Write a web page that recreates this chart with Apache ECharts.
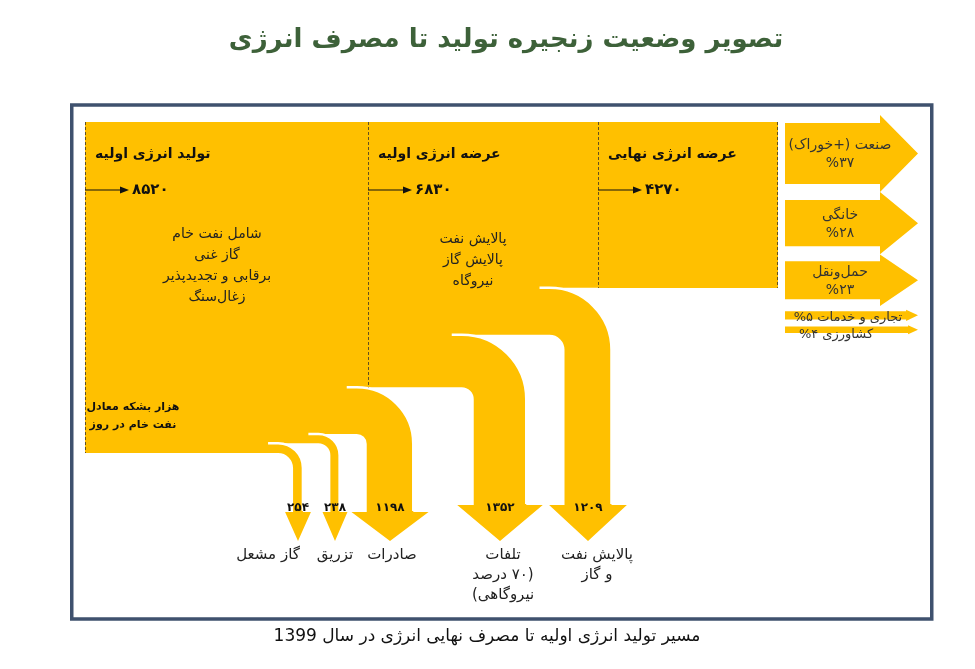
<!DOCTYPE html>
<html><head><meta charset="utf-8">
<script src="https://cdn.jsdelivr.net/npm/echarts@6/dist/echarts.min.js"></script>
<style>html,body{margin:0;padding:0;background:#fff}#c{width:975px;height:669px}</style>
</head><body><div id="c" dir="rtl"></div>
<script>
// ---------------- data ----------------
const titleText = 'تصویر وضعیت زنجیره تولید تا مصرف انرژی';
const captionText = 'مسیر تولید انرژی اولیه تا مصرف نهایی انرژی در سال 1399';
const stageNames = ['تولید انرژی اولیه', 'عرضه انرژی اولیه', 'عرضه انرژی نهایی'];
const stageValues = [8520, 6830, 4270];
const stageLabels = ['۸۵۲۰', '۶۸۳۰', '۴۲۷۰'];
const stageNotes = ['شامل نفت خام\nگاز غنی\nبرقابی و تجدیدپذیر\nزغال‌سنگ', 'پالایش نفت\nپالایش گاز\nنیروگاه', ''];
const unitNote = 'هزار بشکه معادل\nنفت خام در روز';
const flowNames = ['گاز مشعل', 'تزریق', 'صادرات', 'تلفات\n(۷۰ درصد\nنیروگاهی)', 'پالایش نفت\nو گاز'];
const flowValues = [254, 238, 1198, 1352, 1209];
const flowLabels = ['۲۵۴', '۲۳۸', '۱۱۹۸', '۱۳۵۲', '۱۲۰۹'];
const flowStage = [0, 0, 0, 1, 1];
const sectorNames = ['صنعت (+خوراک)', 'خانگی', 'حمل‌ونقل', 'تجاری و خدمات', 'کشاورزی'];
const sectorShares = [37, 28, 23, 5, 4];
const sectorPct = ['۳۷', '۲۸', '۲۳', '۵', '۴'];

// ---------------- layout / style ----------------
const FONT = '"DejaVu Sans", sans-serif';
const GOLD = '#FFC000';
const stageX = [0, 283, 513, 693];          // x layout units in grid 0
const shaftX = [213, 250, 305, 415, 503];   // shaft centre of each flow
const innerR = [15, 12, 10, 12, 15];
const headBase = [512, 512, 512, 505, 505];
const tipY = 541;
const flowLabelDx = [-30, 0, 2, 3, 9];
const noteDx = [132, 105, 0], noteDy = [102, 107, 0];
const sectorGap = [0, 16, 15, 12, 7];
const sectorLabelDx = [0, 0, 0, 8, -4], sectorLabelDy = [0, 0, 0, 1, 4];

function sum(a, n) { let s = 0; for (let k = 0; k < n; k++) s += a[k]; return s; }
const total = stageValues[0];

function flowGeom(i, api) {
  const base = sum(flowValues, i);
  const v = flowValues[i];
  const yb = api.coord([0, base])[1];
  const yt = api.coord([0, base + v])[1];
  const x0 = api.coord([stageX[flowStage[i]], 0])[0];
  const sc = api.coord([shaftX[i], 0])[0];
  const w = yb - yt, r = innerR[i], R = r + w;
  const cx = sc - w / 2 - r, cy = yb + r;
  return {yb, yt, x0, sc, w, r, R, cx, cy, sxL: cx + r, sxR: cx + R, hb: headBase[i], hw: w / 2 + 6 + 0.2 * w};
}

function renderStage(params, api) {
  const i = params.dataIndex;
  const outSum = flowValues.reduce((s, v, k) => flowStage[k] === i ? s + v : s, 0);
  const retained = stageValues[i] - outSum;
  const tl = api.coord([stageX[i], total]);
  const br = api.coord([stageX[i + 1], total - retained]);
  return {type: 'rect', z2: 0, shape: {x: tl[0], y: tl[1], width: br[0] - tl[0], height: br[1] - tl[1]}, style: {fill: GOLD}};
}

function renderFlow(params, api) {
  const i = params.dataIndex;
  const g = flowGeom(i, api);
  // horizontal part overlaps 1px upward to avoid antialias seams with the block above
  const d = 'M' + g.x0 + ' ' + (g.yt - 1) + ' L' + g.cx + ' ' + (g.yt - 1) + ' L' + g.cx + ' ' + g.yt +
    ' A' + g.R + ' ' + g.R + ' 0 0 1 ' + g.sxR + ' ' + g.cy +
    ' L' + g.sxR + ' ' + g.hb + ' L' + (g.sc + g.hw) + ' ' + g.hb +
    ' L' + g.sc + ' ' + tipY + ' L' + (g.sc - g.hw) + ' ' + g.hb +
    ' L' + g.sxL + ' ' + g.hb + ' L' + g.sxL + ' ' + g.cy +
    ' A' + g.r + ' ' + g.r + ' 0 0 0 ' + g.cx + ' ' + g.yb +
    ' L' + g.x0 + ' ' + g.yb + ' Z';
  return {type: 'group', children: [
    {type: 'path', z2: 1, shape: {pathData: d}, style: {fill: GOLD}},
    {type: 'text', z2: 6, x: g.sc, y: 508, style: {text: flowLabels[i], fill: '#111', font: 'bold 12px ' + FONT, align: 'center', verticalAlign: 'middle'}},
    {type: 'text', z2: 6, x: g.sc + flowLabelDx[i], y: 545, style: {text: flowNames[i], fill: '#222', font: '15px ' + FONT, align: 'center', verticalAlign: 'top', lineHeight: 20}}
  ]};
}

function renderFlowEdge(params, api) {
  const i = params.dataIndex;
  const g = flowGeom(i, api);
  const d = 'M' + (g.cx - 10) + ' ' + g.yt + ' L' + g.cx + ' ' + g.yt +
    ' A' + g.R + ' ' + g.R + ' 0 0 1 ' + g.sxR + ' ' + g.cy + ' L' + g.sxR + ' ' + (g.hb - 1);
  return {type: 'path', z2: 2, shape: {pathData: d}, style: {fill: 'none', stroke: '#fff', lineWidth: 2.5}};
}

function renderStageLabels(params, api) {
  const i = params.dataIndex;
  const x = api.coord([stageX[i], total])[0];
  const top = api.coord([0, total])[1];
  const bottom = api.coord([0, total - stageValues[i]])[1];
  const dash = {stroke: 'rgba(70,60,40,0.85)', lineWidth: 1, lineDash: [3, 2]};
  const ch = [];
  ch.push({type: 'line', z2: 5, shape: {x1: x + 0.5, y1: top, x2: x + 0.5, y2: bottom}, style: dash});
  if (i === stageValues.length - 1) {
    const xr = api.coord([stageX[i + 1], 0])[0];
    ch.push({type: 'line', z2: 5, shape: {x1: xr - 0.5, y1: top, x2: xr - 0.5, y2: bottom}, style: dash});
  }
  ch.push({type: 'text', z2: 6, x: x + 10, y: top + 32, style: {text: stageNames[i], fill: '#111', font: 'bold 14px ' + FONT, align: 'left', verticalAlign: 'middle'}});
  const ay = top + 68;
  ch.push({type: 'line', z2: 6, shape: {x1: x, y1: ay, x2: x + 37, y2: ay}, style: {stroke: '#111', lineWidth: 1.2}});
  ch.push({type: 'polygon', z2: 6, shape: {points: [[x + 35, ay - 3.5], [x + 44, ay], [x + 35, ay + 3.5]]}, style: {fill: '#111'}});
  ch.push({type: 'text', z2: 6, x: x + 47, y: ay, style: {text: stageLabels[i], fill: '#111', font: 'bold 15px ' + FONT, align: 'left', verticalAlign: 'middle'}});
  if (stageNotes[i]) {
    ch.push({type: 'text', z2: 6, x: x + noteDx[i], y: top + noteDy[i], style: {text: stageNotes[i], fill: '#222', font: '14px ' + FONT, align: 'center', verticalAlign: 'top', lineHeight: 21}});
  }
  if (i === 0) {
    ch.push({type: 'text', z2: 6, x: x + 48, y: bottom - 37, style: {text: unitNote, fill: '#111', font: 'bold 11px ' + FONT, align: 'center', verticalAlign: 'middle', lineHeight: 18}});
  }
  return {type: 'group', children: ch};
}

function renderSector(params, api) {
  const i = params.dataIndex;
  const p = api.coord([0, sum(sectorShares, i)]);
  const top = p[1] + sum(sectorGap, i + 1);
  const h = api.size([0, sectorShares[i]])[1];
  const xL = p[0];
  const xTip = api.coord([133, 0])[0];
  const headLen = Math.min(38, 1.2 * h + 2);
  const ext = Math.min(8, 0.18 * h);
  const xH = xTip - headLen;
  const big = h > 20;
  const txt = big ? sectorNames[i] + '\n%' + sectorPct[i] : sectorNames[i] + ' ' + sectorPct[i] + '%';
  return {type: 'group', children: [
    {type: 'polygon', shape: {points: [[xL, top], [xH, top], [xH, top - ext], [xTip, top + h / 2], [xH, top + h + ext], [xH, top + h], [xL, top + h]]}, style: {fill: GOLD}},
    {type: 'text', z2: 6, x: 840 + sectorLabelDx[i], y: top + h / 2 + 1 + sectorLabelDy[i], style: {text: txt, fill: '#333', font: (big ? '14px ' : '13px ') + FONT, align: 'center', verticalAlign: 'middle', lineHeight: 18}}
  ]};
}

const chart = echarts.init(document.getElementById('c'));
chart.setOption({
  animation: false,
  graphic: [
    {type: 'rect', z: 1, shape: {x: 71.75, y: 105, width: 860, height: 514}, style: {fill: 'none', stroke: '#3f516e', lineWidth: 3.5}},
    {type: 'text', z: 1, x: 506, y: 40, style: {text: titleText, font: 'bold 26px ' + FONT, fill: '#3d6139', align: 'center', verticalAlign: 'middle'}},
    {type: 'text', z: 1, x: 487, y: 637, style: {text: captionText, font: '17px ' + FONT, fill: '#111', align: 'center', verticalAlign: 'middle'}}
  ],
  grid: [{left: 85, top: 122, width: 693, height: 331}, {left: 785, top: 123, width: 133, height: 165}],
  xAxis: [{type: 'value', gridIndex: 0, min: 0, max: 693, show: false}, {type: 'value', gridIndex: 1, min: 0, max: 133, show: false}],
  yAxis: [{type: 'value', gridIndex: 0, min: 0, max: total, show: false}, {type: 'value', gridIndex: 1, min: 0, max: 100, inverse: true, show: false}],
  series: [
    {type: 'custom', name: 'stages', xAxisIndex: 0, yAxisIndex: 0, data: stageValues.map((v, i) => [i, v]), renderItem: renderStage},
    {type: 'custom', name: 'flows', xAxisIndex: 0, yAxisIndex: 0, data: flowValues.map((v, i) => [i, v]), renderItem: renderFlow},
    {type: 'custom', name: 'flowEdges', xAxisIndex: 0, yAxisIndex: 0, data: flowValues.map((v, i) => [i, v]), renderItem: renderFlowEdge},
    {type: 'custom', name: 'stageLabels', xAxisIndex: 0, yAxisIndex: 0, data: stageValues.map((v, i) => [i, v]), renderItem: renderStageLabels},
    {type: 'custom', name: 'sectors', xAxisIndex: 1, yAxisIndex: 1, data: sectorShares.map((v, i) => [i, v]), renderItem: renderSector}
  ]
});
</script></body></html>
